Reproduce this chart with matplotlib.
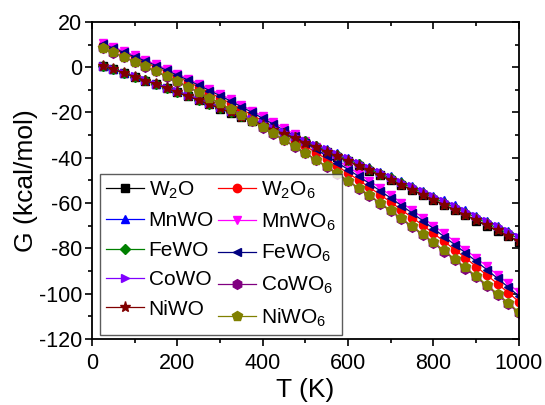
import matplotlib
matplotlib.use("Agg")
import matplotlib.pyplot as plt
from matplotlib.ticker import MultipleLocator

plt.rcParams['font.family'] = ['Liberation Sans', 'DejaVu Sans']
plt.rcParams['mathtext.fontset'] = 'custom'
plt.rcParams['mathtext.rm'] = 'Liberation Sans'
plt.rcParams['mathtext.it'] = 'Liberation Sans'
plt.rcParams['axes.unicode_minus'] = False

T = [25, 50, 75, 100, 125, 150, 175, 200, 225, 250, 275, 300, 325, 350, 375, 400,
     425, 450, 475, 500, 525, 550, 575, 600, 625, 650, 675, 700, 725, 750, 775, 800,
     825, 850, 875, 900, 925, 950, 975, 1000]

W2O = [0.7, -1.0, -2.6, -4.3, -5.9, -7.6, -9.4, -11.1, -12.9, -14.6, -16.4, -18.3,
       -20.1, -22.0, -23.8, -25.7, -27.6, -29.6, -31.5, -33.5, -35.5, -37.5, -39.5, -41.6,
       -43.7, -45.7, -47.8, -50.0, -52.1, -54.3, -56.5, -58.7, -60.9, -63.2, -65.4, -67.7,
       -70.0, -72.3, -74.7, -77.0]
W2O6 = [9.8, 8.0, 6.1, 4.1, 2.1, 0.0, -2.1, -4.3, -6.5, -8.8, -11.2, -13.6,
        -16.0, -18.6, -21.1, -23.8, -26.5, -29.2, -32.0, -34.8, -37.7, -40.7, -43.7, -46.8,
        -49.9, -53.1, -56.3, -59.6, -63.0, -66.4, -69.8, -73.4, -76.9, -80.6, -84.2, -88.0,
        -91.8, -95.6, -99.5, -103.5]
MnWO = [0.7, -0.8, -2.4, -4.0, -5.6, -7.3, -8.9, -10.6, -12.3, -14.0, -15.7, -17.5,
        -19.3, -21.1, -22.9, -24.7, -26.6, -28.4, -30.3, -32.3, -34.2, -36.1, -38.1, -40.1,
        -42.1, -44.1, -46.2, -48.2, -50.3, -52.4, -54.5, -56.7, -58.8, -61.0, -63.2, -65.5,
        -67.7, -69.9, -72.2, -74.5]
MnWO6 = [10.6, 8.9, 7.0, 5.2, 3.2, 1.2, -0.8, -2.9, -5.1, -7.3, -9.6, -11.9,
         -14.2, -16.7, -19.2, -21.7, -24.3, -27.0, -29.7, -32.4, -35.3, -38.1, -41.1, -44.1,
         -47.1, -50.2, -53.3, -56.6, -59.8, -63.1, -66.5, -69.9, -73.4, -77.0, -80.6, -84.2,
         -87.9, -91.7, -95.5, -99.4]
FeWO = [0.7, -0.9, -2.5, -4.2, -5.8, -7.5, -9.1, -10.8, -12.5, -14.3, -16.1, -17.9,
        -19.7, -21.5, -23.4, -25.2, -27.1, -29.0, -31.0, -32.8, -34.8, -36.8, -38.8, -40.8,
        -42.8, -44.9, -47.0, -49.1, -51.2, -53.3, -55.5, -57.7, -59.9, -62.0, -64.2, -66.5,
        -68.8, -71.1, -73.4, -75.7]
FeWO6 = [10.2, 8.4, 6.5, 4.6, 2.7, 0.7, -1.4, -3.6, -5.7, -8.0, -10.3, -12.6,
         -15.0, -17.5, -20.0, -22.6, -25.2, -27.9, -30.6, -33.4, -36.3, -39.2, -42.2, -45.2,
         -48.2, -51.4, -54.6, -57.8, -61.1, -64.4, -67.8, -71.3, -74.8, -78.4, -82.0, -85.7,
         -89.4, -93.2, -97.1, -101.0]
CoWO = [0.7, -0.8, -2.4, -4.0, -5.7, -7.3, -9.0, -10.7, -12.4, -14.1, -15.8, -17.6,
        -19.4, -21.2, -23.0, -24.8, -26.7, -28.6, -30.5, -32.4, -34.3, -36.3, -38.3, -40.3,
        -42.3, -44.3, -46.4, -48.4, -50.5, -52.6, -54.8, -56.9, -59.1, -61.3, -63.5, -65.7,
        -68.0, -70.2, -72.5, -74.8]
CoWO6 = [8.4, 6.4, 4.4, 2.3, 0.2, -1.9, -4.2, -6.4, -8.8, -11.2, -13.6, -16.1,
         -18.7, -21.3, -23.9, -26.7, -29.4, -32.3, -35.1, -38.1, -41.1, -44.1, -47.2, -50.4,
         -53.6, -56.9, -60.2, -63.6, -67.1, -70.6, -74.1, -77.7, -81.4, -85.1, -88.9, -92.7,
         -96.6, -100.5, -104.5, -108.6]
NiWO = [0.7, -0.9, -2.6, -4.2, -5.9, -7.6, -9.3, -11.1, -12.8, -14.6, -16.4, -18.2,
        -20.0, -21.9, -23.8, -25.6, -27.6, -29.5, -31.4, -33.4, -35.4, -37.4, -39.4, -41.5,
        -43.5, -45.6, -47.7, -49.8, -52.0, -54.1, -56.3, -58.5, -60.7, -63.0, -65.2, -67.5,
        -69.8, -72.1, -74.5, -76.8]
NiWO6 = [8.5, 6.5, 4.5, 2.5, 0.4, -1.8, -4.0, -6.2, -8.6, -11.0, -13.4, -15.9,
         -18.4, -21.0, -23.7, -26.4, -29.2, -32.0, -34.9, -37.8, -40.8, -43.8, -46.9, -50.1,
         -53.3, -56.5, -59.9, -63.2, -66.7, -70.2, -73.7, -77.3, -80.9, -84.7, -88.4, -92.2,
         -96.1, -100.0, -104.0, -108.1]

series = [
    (W2O,   r'W$_\mathregular{2}$O',   '#000000', 's'),
    (W2O6,  r'W$_\mathregular{2}$O$_\mathregular{6}$', '#ff0000', 'o'),
    (MnWO,  'MnWO',  '#0000ff', '^'),
    (MnWO6, r'MnWO$_\mathregular{6}$', '#ff00ff', 'v'),
    (FeWO,  'FeWO',  '#008000', 'D'),
    (FeWO6, r'FeWO$_\mathregular{6}$', '#000080', '<'),
    (CoWO,  'CoWO',  '#8000ff', '>'),
    (CoWO6, r'CoWO$_\mathregular{6}$', '#800080', 'h'),
    (NiWO,  'NiWO',  '#800000', '*'),
    (NiWO6, r'NiWO$_\mathregular{6}$', '#808000', 'p'),
]

fig = plt.figure(figsize=(5.45, 4.05), dpi=100)
ax = fig.add_axes([0.169, 0.163, 0.783, 0.783])

handles = []
for vals, lab, col, mk in series:
    ms = 6
    if mk == 'D':
        ms = 5
    elif mk == '*':
        ms = 8
    elif mk in ('h', 'p'):
        ms = 7
    h, = ax.plot(T, vals, color=col, lw=0.9, marker=mk, ms=ms, mec=col, mfc=col,
                 label=lab)
    handles.append(h)

ax.set_xlim(0, 1000)
ax.set_ylim(-120, 20)
ax.xaxis.set_major_locator(MultipleLocator(200))
ax.xaxis.set_minor_locator(MultipleLocator(100))
ax.yaxis.set_major_locator(MultipleLocator(20))
ax.yaxis.set_minor_locator(MultipleLocator(10))

ax.tick_params(which='both', direction='out', top=False, right=False,
               labelsize=15.5, width=1.2)
ax.tick_params(axis='y', pad=2)
ax.tick_params(axis='x', pad=5)
ax.tick_params(which='major', length=5)
ax.tick_params(which='minor', length=3)

secx = ax.secondary_xaxis('top')
secx.xaxis.set_major_locator(MultipleLocator(200))
secx.xaxis.set_minor_locator(MultipleLocator(100))
secx.tick_params(which='both', direction='in', labeltop=False, width=1.2)
secx.tick_params(which='major', length=5)
secx.tick_params(which='minor', length=3)
secx.spines['top'].set_visible(False)
secy = ax.secondary_yaxis('right')
secy.yaxis.set_major_locator(MultipleLocator(20))
secy.yaxis.set_minor_locator(MultipleLocator(10))
secy.tick_params(which='both', direction='in', labelright=False, width=1.2)
secy.tick_params(which='major', length=5)
secy.tick_params(which='minor', length=3)
secy.spines['right'].set_visible(False)

for s in ax.spines.values():
    s.set_linewidth(1.3)

ax.set_xlabel('T (K)', fontsize=19, labelpad=3)
ax.set_ylabel('G (kcal/mol)', fontsize=19, labelpad=1)

order = [0, 2, 4, 6, 8, 1, 3, 5, 7, 9]
leg = ax.legend([handles[i] for i in order], [series[i][1] for i in order],
                loc='lower left', bbox_to_anchor=(0.018, 0.012), ncol=2,
                fontsize=15, frameon=True, fancybox=False, edgecolor='#333333',
                handlelength=1.8, handletextpad=0.25, columnspacing=0.2,
                labelspacing=0.5, borderpad=0.3, borderaxespad=0.0)
leg.get_frame().set_linewidth(1.0)

fig.savefig('out.png', dpi=100)
